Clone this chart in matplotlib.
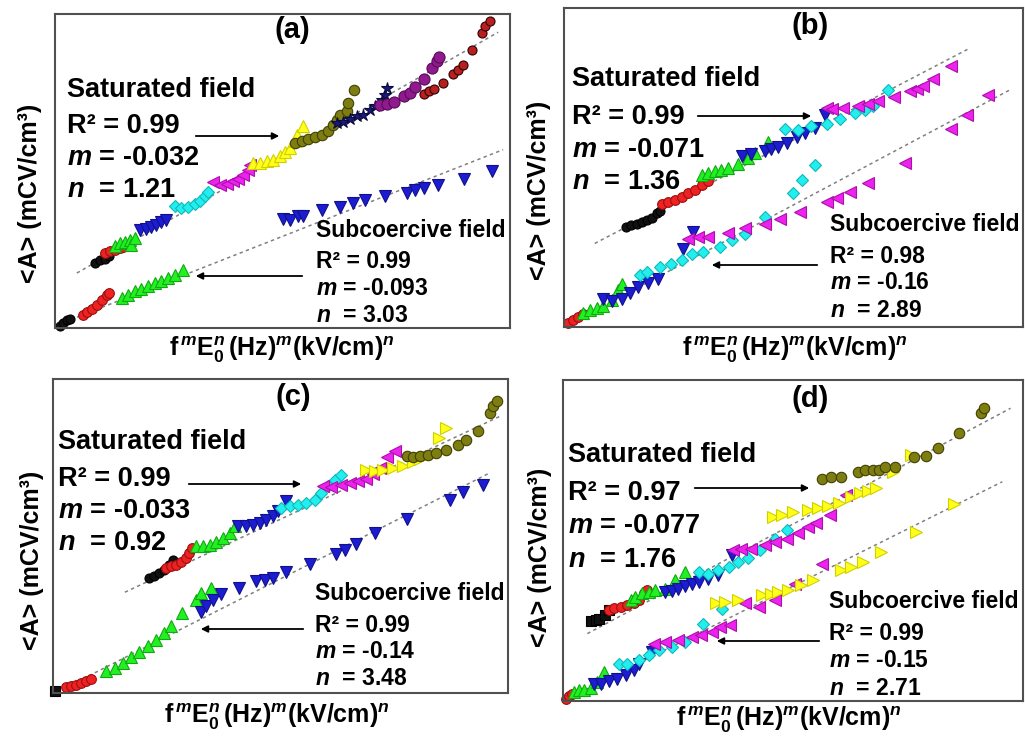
import matplotlib
matplotlib.use("Agg")
import matplotlib.pyplot as plt

plt.rcParams['font.family'] = ['Liberation Sans', 'DejaVu Sans']
plt.rcParams['font.weight'] = 'bold'
plt.rcParams['mathtext.fontset'] = 'custom'
plt.rcParams['mathtext.rm'] = 'Liberation Sans:bold'
plt.rcParams['mathtext.bf'] = 'Liberation Sans:bold'
plt.rcParams['mathtext.it'] = 'Liberation Sans:italic:bold'

# ---------------- panel (a) ----------------
a_sat_black_x = [8.8, 9.9, 11.0, 11.9]
a_sat_black_y = [20.7, 21.5, 22.1, 22.8]
a_sat_red_x = [11.0, 12.1, 13.2, 14.3, 15.0]
a_sat_red_y = [23.9, 24.4, 24.9, 25.5, 25.8]
a_sat_green_x = [13.2, 14.3, 15.4, 16.5, 16.8, 17.6]
a_sat_green_y = [26.2, 27.1, 27.4, 27.9, 26.5, 28.7]
a_sat_blue_x = [18.7, 20.1, 21.2, 22.3, 23.4, 24.4]
a_sat_blue_y = [31.3, 31.5, 32.2, 32.9, 33.7, 34.3]
a_sat_cyan_x = [26.4, 27.8, 29.3, 30.8, 31.9, 33.0, 33.7]
a_sat_cyan_y = [39.0, 38.2, 38.5, 39.6, 40.6, 41.9, 43.3]
a_sat_magenta_x = [34.8, 36.3, 37.7, 39.2, 40.3, 41.4, 42.5, 42.9]
a_sat_magenta_y = [46.4, 45.6, 45.9, 46.7, 47.5, 48.8, 50.4, 52.0]
a_sat_yellow_x = [43.6, 45.1, 46.5, 48.0, 49.5, 50.5, 51.6, 52.7, 53.1, 54.4]
a_sat_yellow_y = [52.5, 52.5, 53.1, 53.6, 54.7, 55.9, 57.3, 59.4, 61.6, 64.4]
a_sat_olive_x = [52.7, 54.2, 55.7, 57.1, 58.6, 60.1, 61.2, 61.9, 62.6, 64.1, 64.5, 65.8]
a_sat_olive_y = [58.9, 59.4, 60.2, 60.8, 61.6, 62.6, 64.8, 66.1, 67.9, 69.0, 71.7, 75.9]
a_sat_navy_x = [61.9, 63.4, 64.8, 66.3, 67.8, 69.2, 70.3, 71.8, 72.5, 73.0]
a_sat_navy_y = [65.3, 65.5, 66.6, 67.4, 67.9, 69.5, 70.6, 72.7, 74.3, 76.4]
a_sat_purple_x = [71.4, 72.9, 74.4, 76.6, 78.0, 79.1, 81.0, 82.8, 83.9, 84.5]
a_sat_purple_y = [71.1, 71.4, 71.9, 73.8, 74.8, 76.8, 79.3, 82.8, 84.9, 86.3]
a_sat_darkred_x = [81.0, 82.1, 83.2, 85.3, 87.5, 88.6, 89.7, 91.6, 93.8, 94.5, 95.6]
a_sat_darkred_y = [74.6, 75.4, 76.1, 78.0, 81.0, 82.3, 83.7, 88.6, 93.9, 96.1, 97.7]

a_sub_black_x = [1.1, 1.8, 2.6, 3.3]
a_sub_black_y = [0.7, 1.6, 2.4, 2.9]
a_sub_red_x = [6.1, 7.0, 8.1, 9.2, 10.3, 11.4, 11.9]
a_sub_red_y = [4.2, 5.0, 6.1, 7.4, 9.0, 10.6, 11.1]
a_sub_green_x = [14.7, 16.1, 17.6, 19.0, 20.5, 22.0, 23.4, 24.9, 26.4, 28.1]
a_sub_green_y = [9.6, 10.6, 11.7, 12.4, 13.3, 14.3, 14.9, 15.9, 17.0, 18.4]
a_sub_blue_x = [50.2, 51.6, 53.5, 54.6, 58.6, 62.6, 65.6, 68.1, 72.5, 77.3, 79.1, 81.1, 84.2, 89.9, 96.0]
a_sub_blue_y = [34.8, 34.5, 35.8, 35.6, 37.5, 38.5, 39.8, 40.9, 41.9, 43.0, 43.8, 44.6, 45.6, 47.5, 49.9]

a_fit_sat_x, a_fit_sat_y = [4.8, 97.4], [17.5, 94.2]
a_fit_sub_x, a_fit_sub_y = [0.7, 98.5], [1.1, 56.8]
a_sat_stats = ["0.99", "-0.032", "1.21"]
a_sub_stats = ["0.99", "-0.093", "3.03"]

# ---------------- panel (b) ----------------
b_sat_black_x = [13.6, 14.7, 15.8, 16.9, 18.0, 19.1, 20.2, 20.9]
b_sat_black_y = [31.4, 31.9, 32.3, 33.0, 33.5, 34.3, 35.6, 36.4]
b_sat_red_x = [21.3, 22.7, 24.2, 25.6, 27.1, 28.5, 30.0, 31.4]
b_sat_red_y = [38.5, 39.3, 39.8, 40.8, 41.9, 42.9, 44.5, 45.9]
b_sat_green_x = [30.0, 31.4, 32.9, 34.3, 35.8, 37.9, 40.1, 41.6, 44.5]
b_sat_green_y = [47.6, 48.2, 49.0, 49.2, 49.7, 51.0, 52.9, 54.7, 58.1]
b_sat_blue_x = [38.7, 40.8, 43.8, 45.2, 46.7, 48.5, 50.7, 52.5, 54.6, 56.8]
b_sat_blue_y = [53.6, 54.2, 55.3, 55.9, 56.5, 57.8, 59.5, 60.7, 62.3, 66.5]
b_sat_cyan_x = [48.1, 51.0, 53.9, 57.2, 60.1, 63.4, 65.5, 67.3, 70.6]
b_sat_cyan_y = [62.0, 61.8, 63.0, 63.7, 65.1, 67.2, 68.1, 69.3, 74.3]
b_sat_magenta_x = [57.2, 58.3, 60.8, 64.1, 66.2, 68.4, 71.9, 75.3, 76.8, 78.2, 80.4, 84.4]
b_sat_magenta_y = [68.6, 68.3, 68.6, 69.3, 69.9, 70.7, 72.0, 74.1, 74.6, 75.6, 77.7, 81.9]

b_sub_red_x = [0.9, 2.0, 3.1, 4.2]
b_sub_red_y = [1.3, 2.1, 3.1, 4.2]
b_sub_green_x = [4.2, 5.7, 7.1, 8.6, 10.4, 11.8, 12.6]
b_sub_green_y = [4.4, 5.2, 5.8, 6.5, 8.4, 11.5, 13.6]
b_sub_blue_x = [8.6, 10.4, 12.6, 14.4, 16.2, 18.4, 20.5, 26.0, 28.2]
b_sub_blue_y = [8.9, 8.2, 8.9, 10.7, 12.4, 13.8, 15.2, 24.6, 29.8]
b_sub_cyan_x = [16.5, 18.0, 20.9, 23.4, 25.6, 27.8, 30.3, 34.0, 36.5, 39.4, 43.7, 49.9, 51.9, 54.6]
b_sub_cyan_y = [16.2, 17.3, 18.8, 19.9, 20.9, 22.8, 23.6, 25.1, 27.2, 29.3, 34.6, 42.1, 46.1, 50.8]
b_sub_magenta_x = [27.1, 29.2, 31.4, 35.8, 39.4, 43.7, 47.0, 51.4, 57.2, 59.4, 62.3, 66.3, 74.2, 84.4, 87.7, 92.4]
b_sub_magenta_y = [27.7, 28.1, 28.3, 29.5, 30.9, 32.3, 33.7, 36.1, 39.3, 40.3, 42.4, 45.2, 51.5, 62.0, 66.5, 72.8]

b_fit_sat_x, b_fit_sat_y = [6.7, 88.4], [26.2, 87.4]
b_fit_sub_x, b_fit_sub_y = [0.6, 97.5], [0.5, 74.6]
b_sat_stats = ["0.99", "-0.071", "1.36"]
b_sub_stats = ["0.98", "-0.16", "2.89"]

# ---------------- panel (c) ----------------
c_sat_black_x = [21.2, 22.3, 23.4, 24.5, 25.6, 26.4]
c_sat_black_y = [36.6, 37.4, 38.2, 39.3, 40.9, 42.5]
c_sat_red_x = [24.9, 26.0, 27.1, 28.2, 29.2, 29.9, 30.6]
c_sat_red_y = [39.8, 40.3, 40.9, 41.6, 43.0, 44.6, 46.2]
c_sat_green_x = [31.5, 33.0, 34.4, 35.9, 37.4, 38.8, 39.9]
c_sat_green_y = [46.7, 46.7, 47.2, 48.0, 49.4, 51.0, 53.1]
c_sat_blue_x = [40.7, 42.5, 44.0, 45.4, 46.9, 48.4, 49.5, 51.3]
c_sat_blue_y = [53.1, 53.1, 53.6, 54.1, 55.0, 56.3, 57.9, 61.0]
c_sat_cyan_x = [50.2, 52.0, 53.8, 55.7, 57.5, 59.0, 60.4, 61.9, 63.4]
c_sat_cyan_y = [58.9, 59.4, 60.0, 60.5, 61.6, 63.7, 66.0, 67.9, 69.5]
c_sat_magenta_x = [59.3, 61.2, 63.4, 65.2, 67.0, 68.9, 70.3, 71.8, 73.3, 75.1]
c_sat_magenta_y = [65.8, 65.6, 66.3, 66.8, 67.4, 68.2, 69.9, 71.7, 75.2, 77.0]
c_sat_yellow_x = [68.9, 70.7, 72.5, 74.7, 76.9, 79.1, 80.6, 84.9, 86.4]
c_sat_yellow_y = [71.1, 70.6, 71.1, 71.7, 72.4, 73.5, 74.5, 81.2, 84.4]
c_sat_olive_x = [77.7, 79.1, 80.6, 82.4, 84.2, 86.4, 89.0, 90.8, 93.4, 96.0, 96.7, 97.6]
c_sat_olive_y = [75.6, 75.2, 75.4, 75.9, 76.4, 77.3, 79.1, 80.7, 83.3, 89.2, 91.3, 92.9]

c_sub_black_x = [0.4]
c_sub_black_y = [0.5]
c_sub_red_x = [2.9, 4.0, 5.1, 6.2, 7.3, 8.4]
c_sub_red_y = [1.9, 2.3, 2.7, 3.2, 3.7, 4.5]
c_sub_green_x = [11.7, 13.6, 15.4, 17.2, 19.0, 20.9, 22.7, 24.5, 26.0, 28.4, 31.5, 32.6, 34.8]
c_sub_green_y = [6.9, 8.0, 9.6, 11.5, 13.0, 14.9, 16.8, 19.1, 21.2, 25.5, 29.7, 31.8, 33.4]
c_sub_blue_x = [32.6, 33.7, 35.2, 37.0, 40.9, 44.7, 46.5, 48.4, 51.1, 56.4, 62.3, 64.1, 66.7, 70.7, 77.7, 87.2, 90.1, 94.5]
c_sub_blue_y = [25.7, 27.8, 29.7, 31.6, 33.4, 35.6, 35.9, 36.6, 38.4, 41.2, 44.4, 45.6, 47.6, 51.0, 55.4, 61.4, 63.9, 66.3]

c_fit_sat_x, c_fit_sat_y = [15.8, 98.2], [32.1, 88.1]
c_fit_sub_x, c_fit_sub_y = [2.6, 96.0], [1.6, 70.1]
c_sat_stats = ["0.99", "-0.033", "0.92"]
c_sub_stats = ["0.99", "-0.14", "3.48"]

# ---------------- panel (d) ----------------
d_sat_black_x = [6.0, 7.1, 7.9, 9.2, 9.9]
d_sat_black_y = [24.9, 25.2, 25.7, 26.7, 28.3]
d_sat_red_x = [9.9, 11.0, 12.5, 13.9, 15.4, 16.5, 17.5, 18.3]
d_sat_red_y = [28.3, 29.1, 29.3, 29.8, 30.4, 31.4, 33.7, 34.5]
d_sat_green_x = [14.7, 15.7, 17.2, 18.6, 20.1, 22.2, 24.4, 26.6]
d_sat_green_y = [31.4, 32.4, 33.5, 34.0, 34.5, 35.0, 37.6, 40.2]
d_sat_blue_x = [22.2, 23.7, 25.1, 26.6, 28.0, 29.5, 31.6, 33.8, 36.7]
d_sat_blue_y = [34.0, 34.3, 35.0, 35.8, 36.6, 37.1, 38.1, 39.2, 45.4]
d_sat_cyan_x = [29.5, 31.6, 33.8, 36.0, 38.1, 40.3, 42.8, 46.1, 48.6]
d_sat_cyan_y = [40.2, 39.7, 40.7, 41.8, 43.3, 44.4, 47.0, 50.6, 53.2]
d_sat_magenta_x = [37.0, 38.8, 40.9, 43.9, 46.1, 48.6, 51.1, 53.3, 55.1, 58.0, 61.6]
d_sat_magenta_y = [47.0, 47.2, 47.5, 48.5, 49.6, 50.6, 52.2, 54.3, 55.3, 57.9, 64.1]
d_sat_yellow_x = [45.7, 47.5, 50.0, 53.3, 55.5, 57.6, 60.1, 62.7, 64.5, 66.3, 68.0, 71.7, 75.7]
d_sat_yellow_y = [57.4, 57.9, 58.9, 59.5, 60.0, 60.7, 61.7, 63.6, 64.7, 65.5, 66.2, 71.4, 76.6]
d_sat_olive_x = [56.2, 58.3, 60.5, 64.1, 65.6, 67.4, 68.8, 69.9, 72.1, 76.4, 78.9, 81.6, 86.1, 90.8, 91.6]
d_sat_olive_y = [69.3, 69.9, 69.9, 71.4, 71.9, 72.1, 71.9, 72.8, 72.8, 75.9, 76.3, 78.7, 83.4, 89.6, 91.2]

d_sub_red_x = [0.6, 1.3, 2.0]
d_sub_red_y = [0.7, 1.5, 2.3]
d_sub_green_x = [2.4, 3.5, 4.5, 6.0, 7.4, 8.9]
d_sub_green_y = [2.8, 3.3, 3.5, 4.2, 5.9, 9.0]
d_sub_blue_x = [6.7, 8.2, 10.0, 11.8, 13.6, 15.4, 16.5, 19.4]
d_sub_blue_y = [5.4, 5.4, 6.2, 7.0, 8.0, 9.6, 11.6, 15.3]
d_sub_cyan_x = [12.1, 13.9, 16.5, 18.6, 20.8, 23.7, 26.6, 30.5, 34.5]
d_sub_cyan_y = [11.6, 11.6, 12.7, 14.2, 15.8, 16.8, 18.4, 24.1, 28.8]
d_sub_magenta_x = [19.7, 22.2, 25.1, 28.0, 30.1, 32.3, 34.2, 36.3, 39.6, 42.5, 46.1, 50.4, 56.2]
d_sub_magenta_y = [17.9, 18.4, 18.9, 20.0, 20.5, 21.5, 23.1, 23.6, 30.4, 29.3, 31.4, 36.6, 42.8]
d_sub_yellow_x = [33.3, 35.2, 38.1, 43.2, 45.3, 46.8, 49.0, 51.8, 54.4, 60.5, 62.7, 65.2, 69.2, 76.8, 85.1]
d_sub_yellow_y = [30.4, 30.9, 31.4, 33.0, 33.3, 34.0, 34.5, 36.1, 37.6, 40.7, 41.6, 43.3, 46.5, 52.7, 61.5]

d_fit_sat_x, d_fit_sat_y = [5.3, 97.3], [21.0, 91.2]
d_fit_sub_x, d_fit_sub_y = [0.9, 95.5], [0.7, 68.3]
d_sat_stats = ["0.97", "-0.077", "1.76"]
d_sub_stats = ["0.99", "-0.15", "2.71"]

# marker styles: (marker, face, edge, size)
STYLE = {
    'black':    ('o', '#111111', '#000000', 6.5),
    'blacksq':  ('s', '#111111', '#000000', 6.5),
    'red':      ('o', '#ee2222', '#9a1010', 7),
    'green':    ('^', '#22f022', '#10aa10', 8),
    'blue':     ('v', '#1c1cd0', '#10108a', 8),
    'cyan':     ('D', '#22eeee', '#10b8b8', 6.5),
    'magenta':  ('<', '#ee22ee', '#aa10aa', 8),
    'yellow':   ('>', '#ffff1a', '#d0d000', 8),
    'yellowup': ('^', '#ffff1a', '#d0d000', 8),
    'olive':    ('o', '#7d7d12', '#404000', 7.5),
    'navy':     ('*', '#1a1a7a', '#0a0a40', 9),
    'purple':   ('o', '#8e1a8e', '#5a0a5a', 8),
    'darkred':  ('o', '#b82020', '#300000', 6.5),
}

W, H = 1025, 740
fig = plt.figure(figsize=(W / 100, H / 100), dpi=100)


def fx(px):
    return px / W


def fy(py):
    return 1 - py / H


def draw_series(ax, groups, fits):
    for xs, ys in fits:
        ax.plot(xs, ys, color='#808080', lw=1.1, ls=(0, (2.2, 2.2)), zorder=1)
    for key, xs, ys in groups:
        m, fc, ec, ms = STYLE[key]
        ax.plot(xs, ys, ls='none', marker=m, ms=ms, mfc=fc, mec=ec,
                mew=0.8, zorder=2, clip_on=False)
    ax.set_xlim(0, 100)
    ax.set_ylim(0, 100)
    ax.set_xticks([])
    ax.set_yticks([])
    for s in ax.spines.values():
        s.set_color('#505050')
        s.set_linewidth(1.5)


def stat_lines(r2, m, n):
    return ['R\u00b2 = ' + r2, r'$\mathit{m}$ = ' + m, r'$\mathit{n}$  = ' + n]


def annotate_panel(tag, tag_xy, sat_x, sat_base, sat_stats, sat_arrow,
                   sub_x, sub_base, sub_stats, sub_arrow, ylab_xy, xlab_xy):
    fig.text(fx(tag_xy[0]), fy(tag_xy[1]), tag, fontsize=21, fontweight='bold',
             ha='center', va='center')
    fig.text(fx(sat_x), fy(sat_base[0]), 'Saturated field', fontsize=19.5,
             fontweight='bold', ha='left', va='baseline')
    for s, b in zip(stat_lines(*sat_stats), sat_base[1:]):
        fig.text(fx(sat_x), fy(b), s, fontsize=19.5, fontweight='bold',
                 ha='left', va='baseline')
    fig.text(fx(sub_x), fy(sub_base[0]), 'Subcoercive field', fontsize=16.5,
             fontweight='bold', ha='left', va='baseline')
    for s, b in zip(stat_lines(*sub_stats), sub_base[1:]):
        fig.text(fx(sub_x), fy(b), s, fontsize=16.5, fontweight='bold',
                 ha='left', va='baseline')
    for (x0, y0, x1, y1) in (sat_arrow, sub_arrow):
        fig.add_artist(matplotlib.patches.FancyArrowPatch(
            (fx(x0), fy(y0)), (fx(x1), fy(y1)), transform=fig.transFigure,
            arrowstyle='-|>', mutation_scale=10, lw=1.3, color='black'))
    fig.text(fx(ylab_xy[0]), fy(ylab_xy[1]), '<A> (mCV/cm\u00b3)', fontsize=18,
             fontweight='bold', rotation=90, ha='center', va='center')
    fig.text(fx(xlab_xy[0]), fy(xlab_xy[1]),
             r'$\mathbf{f}^{\,\mathit{m}}\mathbf{E}_{\mathbf{0}}^{\mathit{n}}\,'
             r'\mathbf{(Hz)}^{\mathit{m}}\mathbf{(kV/cm)}^{\mathit{n}}$',
             fontsize=18, ha='center', va='center')


# panel (a)
ax_a = fig.add_axes([fx(55), fy(328), fx(455), 314 / H])
draw_series(ax_a, [
    ('black', a_sat_black_x, a_sat_black_y), ('red', a_sat_red_x, a_sat_red_y),
    ('green', a_sat_green_x, a_sat_green_y), ('blue', a_sat_blue_x, a_sat_blue_y),
    ('cyan', a_sat_cyan_x, a_sat_cyan_y), ('magenta', a_sat_magenta_x, a_sat_magenta_y),
    ('yellowup', a_sat_yellow_x, a_sat_yellow_y), ('olive', a_sat_olive_x, a_sat_olive_y),
    ('navy', a_sat_navy_x, a_sat_navy_y), ('purple', a_sat_purple_x, a_sat_purple_y),
    ('darkred', a_sat_darkred_x, a_sat_darkred_y),
    ('black', a_sub_black_x, a_sub_black_y), ('red', a_sub_red_x, a_sub_red_y),
    ('green', a_sub_green_x, a_sub_green_y), ('blue', a_sub_blue_x, a_sub_blue_y),
], [(a_fit_sat_x, a_fit_sat_y), (a_fit_sub_x, a_fit_sub_y)])
annotate_panel('(a)', (292, 30), 67, (97, 133, 165, 197), a_sat_stats,
               (193, 136, 282, 136), 316, (237, 268, 295, 322), a_sub_stats,
               (305, 276, 193, 276), (30, 193), (282, 350))

# panel (b)
ax_b = fig.add_axes([fx(564), fy(327), fx(459), 319 / H])
draw_series(ax_b, [
    ('black', b_sat_black_x, b_sat_black_y), ('red', b_sat_red_x, b_sat_red_y),
    ('green', b_sat_green_x, b_sat_green_y), ('blue', b_sat_blue_x, b_sat_blue_y),
    ('cyan', b_sat_cyan_x, b_sat_cyan_y), ('magenta', b_sat_magenta_x, b_sat_magenta_y),
    ('red', b_sub_red_x, b_sub_red_y), ('green', b_sub_green_x, b_sub_green_y),
    ('blue', b_sub_blue_x, b_sub_blue_y), ('cyan', b_sub_cyan_x, b_sub_cyan_y),
    ('magenta', b_sub_magenta_x, b_sub_magenta_y),
], [(b_fit_sat_x, b_fit_sat_y), (b_fit_sub_x, b_fit_sub_y)])
annotate_panel('(b)', (810, 26), 572, (86, 124, 157, 189), b_sat_stats,
               (695, 116, 814, 116), 830, (231, 263, 289, 317), b_sub_stats,
               (820, 265, 709, 265), (539, 190), (795, 350))

# panel (c)
ax_c = fig.add_axes([fx(53), fy(693), fx(455), 314 / H])
draw_series(ax_c, [
    ('black', c_sat_black_x, c_sat_black_y), ('red', c_sat_red_x, c_sat_red_y),
    ('green', c_sat_green_x, c_sat_green_y), ('blue', c_sat_blue_x, c_sat_blue_y),
    ('cyan', c_sat_cyan_x, c_sat_cyan_y), ('magenta', c_sat_magenta_x, c_sat_magenta_y),
    ('yellow', c_sat_yellow_x, c_sat_yellow_y), ('olive', c_sat_olive_x, c_sat_olive_y),
    ('blacksq', c_sub_black_x, c_sub_black_y), ('red', c_sub_red_x, c_sub_red_y),
    ('green', c_sub_green_x, c_sub_green_y), ('blue', c_sub_blue_x, c_sub_blue_y),
], [(c_fit_sat_x, c_fit_sat_y), (c_fit_sub_x, c_fit_sub_y)])
annotate_panel('(c)', (293, 397), 58, (449, 486, 518, 550), c_sat_stats,
               (186, 484, 304, 484), 315, (600, 632, 658, 685), c_sub_stats,
               (306, 629, 198, 629), (32, 560), (277, 717))

# panel (d)
ax_d = fig.add_axes([fx(563), fy(701), fx(460), 321 / H])
draw_series(ax_d, [
    ('blacksq', d_sat_black_x, d_sat_black_y), ('red', d_sat_red_x, d_sat_red_y),
    ('green', d_sat_green_x, d_sat_green_y), ('blue', d_sat_blue_x, d_sat_blue_y),
    ('cyan', d_sat_cyan_x, d_sat_cyan_y), ('magenta', d_sat_magenta_x, d_sat_magenta_y),
    ('yellow', d_sat_yellow_x, d_sat_yellow_y), ('olive', d_sat_olive_x, d_sat_olive_y),
    ('red', d_sub_red_x, d_sub_red_y), ('green', d_sub_green_x, d_sub_green_y),
    ('blue', d_sub_blue_x, d_sub_blue_y), ('cyan', d_sub_cyan_x, d_sub_cyan_y),
    ('magenta', d_sub_magenta_x, d_sub_magenta_y), ('yellow', d_sub_yellow_x, d_sub_yellow_y),
], [(d_fit_sat_x, d_fit_sat_y), (d_fit_sub_x, d_fit_sub_y)])
annotate_panel('(d)', (810, 399), 568, (462, 500, 533, 567), d_sat_stats,
               (692, 488, 812, 488), 829, (608, 640, 667, 695), d_sub_stats,
               (822, 641, 714, 641), (540, 557), (789, 720))

fig.savefig('out.png', dpi=100)
